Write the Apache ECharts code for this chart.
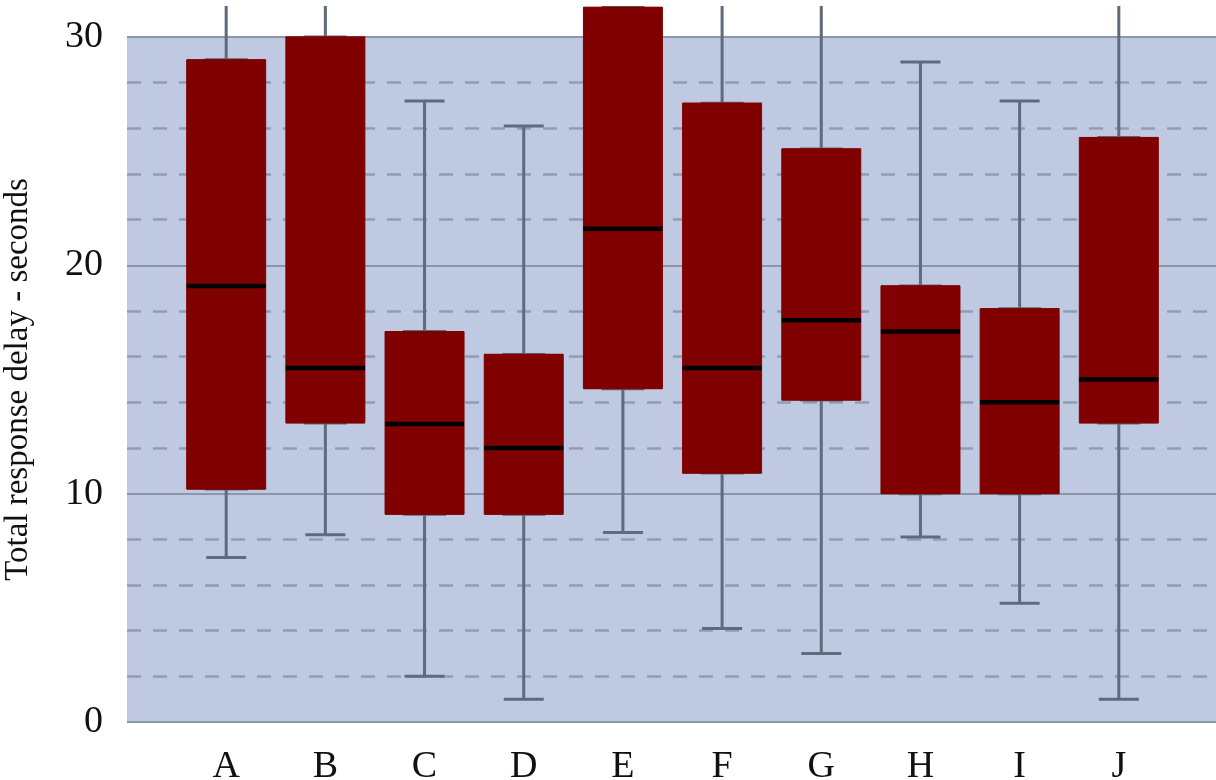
<!DOCTYPE html>
<html>
<head>
<meta charset="utf-8">
<script src="https://cdn.jsdelivr.net/npm/echarts@6/dist/echarts.min.js"></script>
<style>
html,body{margin:0;padding:0;background:#fff;width:1216px;height:780px;overflow:hidden;}
#c{position:absolute;left:0;top:6px;width:1216px;height:774px;}
</style>
</head>
<body>
<div id="c"></div>
<script>
const categories = ['A','B','C','D','E','F','G','H','I','J'];
const whiskerLow  = [7.2, 8.2, 2.0, 1.0, 8.3, 4.1, 3.0, 8.1, 5.2, 1.0];
const quartile1   = [10.2, 13.1, 9.1, 9.1, 14.6, 10.9, 14.1, 10.0, 10.0, 13.1];
const medians     = [19.1, 15.5, 13.05, 12.0, 21.6, 15.5, 17.6, 17.1, 14.0, 15.0];
const quartile3   = [29.0, 30.0, 17.1, 16.1, 31.3, 27.1, 25.1, 19.1, 18.1, 25.6];
const whiskerHigh = [34, 34, 27.2, 26.1, 34, 34, 34, 28.9, 27.2, 34];
const yTicks = [0, 10, 20, 30];
const yAxisTitle = 'Total response delay - seconds';

const FONT = "'Liberation Serif','DejaVu Serif','Times New Roman',serif";
const gridLineColor = '#8c96aa';
const whiskerColor = '#5f6a7d';
const boxColor = '#800000';

const whiskerData = categories.map((c, i) => [i, whiskerLow[i], quartile1[i], medians[i], quartile3[i], whiskerHigh[i]]);
const boxData = categories.map((c, i) => [i, quartile1[i], quartile1[i], medians[i], quartile3[i], quartile3[i]]);
const medianData = categories.map((c, i) => [i, medians[i], medians[i], medians[i], medians[i], medians[i]]);

function xAxisDef(visible) {
  return {
    type: 'value', min: -1, max: categories.length, interval: 1,
    show: visible,
    axisLine: {show: false}, axisTick: {show: false}, splitLine: {show: false},
    axisLabel: {
      show: visible, margin: 26, fontFamily: FONT, fontSize: 38, color: '#111',
      formatter: v => (categories[v] !== undefined ? categories[v] : '')
    }
  };
}

const chart = echarts.init(document.getElementById('c'), null, {renderer: 'canvas'});
chart.setOption({
  animation: false,
  grid: {left: 127, right: -2, top: 31, bottom: 58, show: true, backgroundColor: '#bfcae2', borderWidth: 0,
         containLabel: false, outerBoundsMode: 'none'},
  xAxis: [xAxisDef(true), xAxisDef(false), xAxisDef(false)],
  yAxis: {
    type: 'value', min: yTicks[0], max: yTicks[yTicks.length - 1], interval: 10,
    name: yAxisTitle, nameLocation: 'middle', nameGap: 92, nameRotate: 90,
    nameTextStyle: {fontFamily: FONT, fontSize: 33, color: '#111'},
    axisLine: {show: false},
    axisTick: {show: true, length: 16, lineStyle: {color: gridLineColor, width: 2}},
    axisLabel: {margin: 24, fontFamily: FONT, fontSize: 38, color: '#111'},
    splitLine: {show: true, lineStyle: {color: gridLineColor, width: 2}},
    minorTick: {show: false, splitNumber: 5},
    minorSplitLine: {show: true, lineStyle: {color: '#939cb1', width: 2.5, type: [14, 12]}}
  },
  series: [
    {
      type: 'boxplot', xAxisIndex: 0, data: whiskerData, boxWidth: [40, 40],
      itemStyle: {color: 'transparent', borderColor: whiskerColor, borderWidth: 3},
      emphasis: {disabled: true}
    },
    {
      type: 'boxplot', xAxisIndex: 1, data: boxData, boxWidth: [79, 79],
      itemStyle: {color: boxColor, borderColor: boxColor, borderWidth: 1},
      emphasis: {disabled: true}
    },
    {
      type: 'boxplot', xAxisIndex: 2, data: medianData, boxWidth: [79, 79],
      itemStyle: {color: 'transparent', borderColor: '#000', borderWidth: 4.5},
      emphasis: {disabled: true}
    }
  ]
});
</script>
</body>
</html>
